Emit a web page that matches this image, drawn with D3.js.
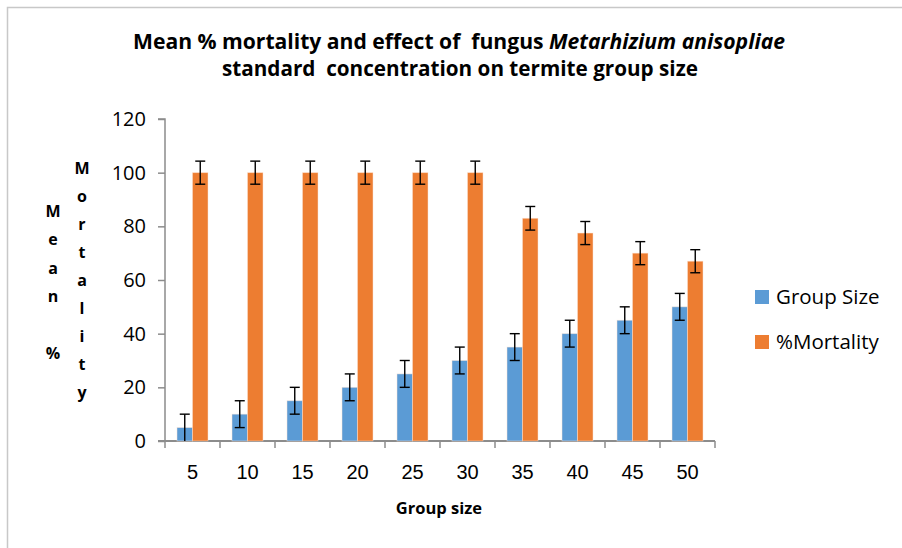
<!DOCTYPE html>
<html>
<head>
<meta charset="utf-8">
<script src="https://cdn.jsdelivr.net/npm/d3@7.9.0/dist/d3.min.js"></script>
<style>
  body { margin: 0; background: #fff; }
  svg { display: block; font-family: "Open Sans", "DejaVu Sans", sans-serif; }
</style>
</head>
<body>
<svg id="chart" width="902" height="548"></svg>
<script>
// data
const groups = ["5", "10", "15", "20", "25", "30", "35", "40", "45", "50"];
const groupSize = [5, 10, 15, 20, 25, 30, 35, 40, 45, 50];
const groupSizeErr = [5, 5, 5, 5, 5, 5, 5, 5, 5, 5];
const mortality = [100, 100, 100, 100, 100, 100, 83, 77.5, 70, 67];
const mortalityErr = [4.3, 4.3, 4.3, 4.3, 4.3, 4.3, 4.4, 4.3, 4.3, 4.3];
const seriesNames = ["Group Size", "%Mortality"];
const yTicks = [0, 20, 40, 60, 80, 100, 120];

const colors = ["#5B9BD5", "#ED7D31"];
const svg = d3.select("#chart");

// chart frame
svg.append("path")
  .attr("d", "M7.5,548 V7.5 H902")
  .attr("fill", "none")
  .attr("stroke", "#c8c8c8")
  .attr("stroke-width", 1.5);

const plotLeft = 165, plotRight = 715, plotTop = 119, plotBottom = 441;

const x0 = d3.scaleBand().domain(groups).range([plotLeft, plotRight])
  .paddingInner(0.4364).paddingOuter(0.2182);
const x1 = d3.scaleBand().domain(seriesNames).range([0, x0.bandwidth()]);
const y = d3.scaleLinear().domain([0, 120]).range([plotBottom, plotTop]);

// y axis
const yAxis = svg.append("g").attr("transform", `translate(${plotLeft},0)`)
  .call(d3.axisLeft(y).tickValues(yTicks).tickSize(7).tickPadding(12));
yAxis.select(".domain").attr("stroke", "#8c8c8c").attr("stroke-width", 1.5)
  .attr("d", `M-7,${y(120)}H0V${y(0)}`);
yAxis.selectAll(".tick line").attr("stroke", "#8c8c8c").attr("stroke-width", 1.5);
yAxis.selectAll(".tick text").attr("font-size", 20).attr("fill", "#000")
  .attr("font-family", "Open Sans");

// x axis
const xAxis = svg.append("g").attr("transform", `translate(0,${plotBottom})`)
  .call(d3.axisBottom(x0).tickSize(0).tickPadding(24));
xAxis.select(".domain").attr("stroke", "#8c8c8c").attr("stroke-width", 2)
  .attr("d", `M${plotLeft - 7},0H${plotRight}`);
xAxis.selectAll(".tick text").attr("font-size", 20).attr("fill", "#000");
const edges = groups.map(g => x0(g) - x0.step() * x0.paddingInner() / 2).concat([plotRight]);
xAxis.selectAll(".edge").data(edges).enter().append("line")
  .attr("x1", d => d).attr("x2", d => d)
  .attr("y1", 0).attr("y2", 7)
  .attr("stroke", "#8c8c8c").attr("stroke-width", 1.5);

// bars
const series = [
  { name: seriesNames[0], values: groupSize, errs: groupSizeErr },
  { name: seriesNames[1], values: mortality, errs: mortalityErr }
];

series.forEach((s, si) => {
  const g = svg.append("g");
  g.selectAll("rect").data(s.values).enter().append("rect")
    .attr("x", (d, i) => x0(groups[i]) + x1(s.name))
    .attr("y", d => y(d))
    .attr("width", x1.bandwidth())
    .attr("height", d => y(0) - y(d))
    .attr("fill", colors[si])
    .attr("stroke", "#fbe3d4")
    .attr("stroke-opacity", 0.6)
    .attr("stroke-width", 0.8);

  // error bars
  const eb = svg.append("g").attr("stroke", "#000").attr("stroke-width", 1.4);
  s.values.forEach((d, i) => {
    const cx = x0(groups[i]) + x1(s.name) + x1.bandwidth() / 2;
    const lo = Math.max(0, d - s.errs[i]), hi = d + s.errs[i];
    eb.append("line").attr("x1", cx).attr("x2", cx).attr("y1", y(lo)).attr("y2", y(hi));
    eb.append("line").attr("x1", cx - 5).attr("x2", cx + 5).attr("y1", y(hi)).attr("y2", y(hi));
    if (d - s.errs[i] > 0)
      eb.append("line").attr("x1", cx - 5).attr("x2", cx + 5).attr("y1", y(lo)).attr("y2", y(lo));
  });
});

// title (two lines, stretched to the reference widths)
const t1 = svg.append("text").attr("x", 459).attr("y", 49).attr("text-anchor", "middle")
  .attr("font-weight", "bold").attr("font-size", 20.5).attr("fill", "#000")
  .attr("textLength", 652).attr("lengthAdjust", "spacingAndGlyphs")
  .style("white-space", "pre");
t1.append("tspan").text("Mean % mortality and effect of  fungus ");
t1.append("tspan").attr("font-style", "italic").text("Metarhizium anisopliae");
svg.append("text").attr("x", 460).attr("y", 76).attr("text-anchor", "middle")
  .attr("font-weight", "bold").attr("font-size", 20.5).attr("fill", "#000")
  .attr("textLength", 476).attr("lengthAdjust", "spacingAndGlyphs")
  .style("white-space", "pre")
  .text("standard  concentration on termite group size");

// x axis title
svg.append("text").attr("x", 439).attr("y", 514).attr("text-anchor", "middle")
  .attr("font-weight", "bold").attr("font-size", 16.5).text("Group size");

// y axis title, stacked letters in two columns
const col1 = ["M", "e", "a", "n", "", "%"];
const col2 = ["M", "o", "r", "t", "a", "l", "i", "t", "y"];
svg.append("g").selectAll("text").data(col1).enter().append("text")
  .attr("x", 53).attr("y", (d, i) => 217 + i * 28.4)
  .attr("text-anchor", "middle").attr("font-weight", "bold").attr("font-size", 16)
  .text(d => d);
svg.append("g").selectAll("text").data(col2).enter().append("text")
  .attr("x", 82).attr("y", (d, i) => 174 + i * 28)
  .attr("text-anchor", "middle").attr("font-weight", "bold").attr("font-size", 16)
  .text(d => d);

// legend
const legend = svg.append("g");
seriesNames.forEach((n, i) => {
  const ly = 297 + i * 45;
  legend.append("rect").attr("x", 755).attr("y", ly - 7).attr("width", 14).attr("height", 14)
    .attr("fill", colors[i]);
  legend.append("text").attr("x", 776).attr("y", ly + 7).attr("font-size", 20.5)
    .attr("fill", "#000").text(n);
});
</script>
</body>
</html>
